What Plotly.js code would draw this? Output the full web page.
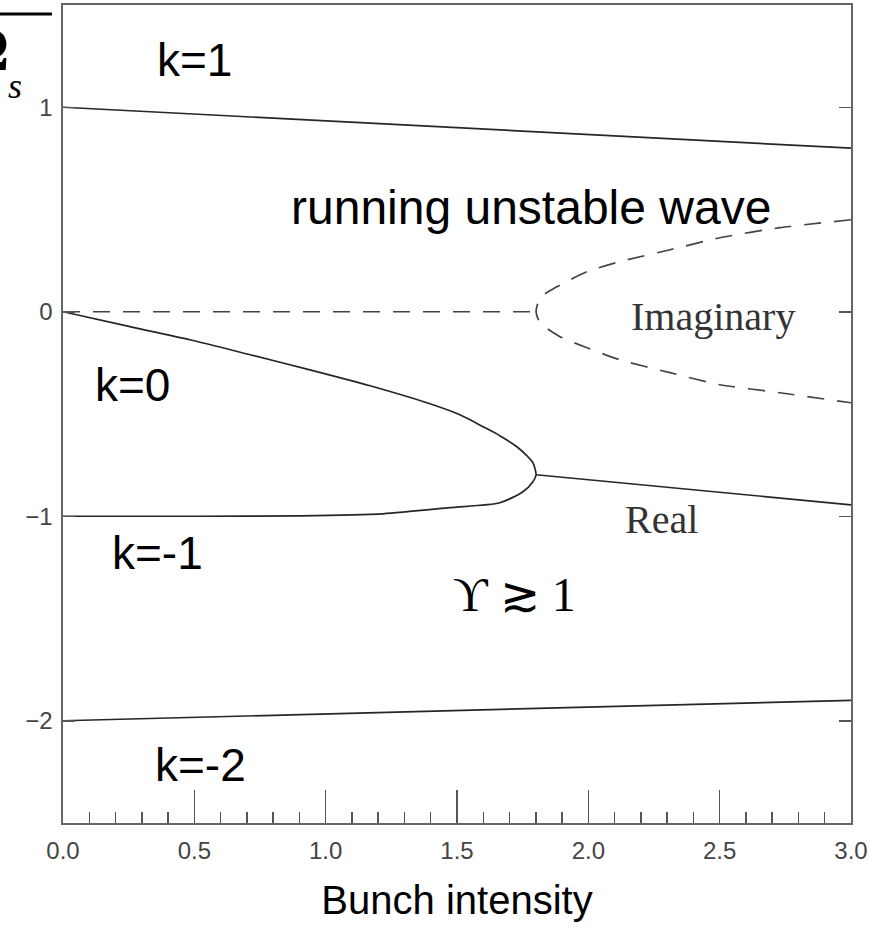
<!DOCTYPE html>
<html>
<head>
<meta charset="utf-8">
<script src="https://cdn.plot.ly/plotly-3.0.1.min.js"></script>
<style>html,body{margin:0;padding:0;background:#fff;}#chart{width:869px;height:935px;}</style>
</head>
<body>
<div id="chart"></div>
<script>
// k = 1 mode (solid)
const k1X = [0.0, 3.0];
const k1Y = [1.0, 0.8];
// k = -2 mode (solid)
const km2X = [0.0, 3.0];
const km2Y = [-2.0, -1.9];
// k = 0 branch (solid), from origin to the merging point
const k0X = [0.0, 0.255, 0.483, 0.712, 0.940, 1.169, 1.397, 1.511, 1.599, 1.663, 1.728, 1.770, 1.789, 1.801];
const k0Y = [0.0, -0.073, -0.137, -0.210, -0.284, -0.362, -0.450, -0.504, -0.562, -0.606, -0.660, -0.709, -0.738, -0.797];
// k = -1 branch (solid), from -1 to the merging point
const km1X = [0.0, 0.522, 0.902, 1.218, 1.473, 1.663, 1.751, 1.789, 1.801];
const km1Y = [-1.0, -1.0, -0.998, -0.988, -0.958, -0.934, -0.880, -0.831, -0.797];
// merged real part (solid)
const realX = [1.801, 3.0];
const realY = [-0.797, -0.944];
// imaginary part (dashed)
const imagFlatX = [0.0, 1.801];
const imagFlatY = [0.0, 0.0];
const imagX = [3.0, 2.729, 2.501, 2.311, 2.120, 1.995, 1.880, 1.816, 1.801, 1.816, 1.892, 1.995, 2.120, 2.311, 2.501, 2.729, 3.0];
const imagY = [0.450, 0.411, 0.362, 0.303, 0.245, 0.196, 0.122, 0.068, 0.0, -0.054, -0.122, -0.176, -0.235, -0.298, -0.357, -0.396, -0.445];

const xTicks = [0.0, 0.5, 1.0, 1.5, 2.0, 2.5, 3.0];
const xTickText = ['0.0', '0.5', '1.0', '1.5', '2.0', '2.5', '3.0'];
const yTicks = [-2, -1, 0, 1];
const yTickText = ['\u22122', '\u22121', '0', '1'];

const solid = {color: '#262626', width: 1.7};
const dashed = {color: '#444', width: 1.7, dash: '17px,13px'};

// the k=0 and k=-1 branches joined through their merging point, so the turn is smooth
const loopX = k0X.concat(km1X.slice(0, -1).reverse());
const loopY = k0Y.concat(km1Y.slice(0, -1).reverse());

const traces = [
  {x: k1X, y: k1Y, mode: 'lines', line: solid, hoverinfo: 'skip'},
  {x: km2X, y: km2Y, mode: 'lines', line: solid, hoverinfo: 'skip'},
  {x: loopX, y: loopY, mode: 'lines', line: Object.assign({shape: 'spline', smoothing: 0.7}, solid), hoverinfo: 'skip'},
  {x: realX, y: realY, mode: 'lines', line: solid, hoverinfo: 'skip'},
  {x: imagFlatX, y: imagFlatY, mode: 'lines', line: dashed, hoverinfo: 'skip'},
  {x: imagX, y: imagY, mode: 'lines', line: Object.assign({shape: 'spline', smoothing: 0.6}, dashed), hoverinfo: 'skip'}
];

const big = {family: 'Liberation Sans, Arial, sans-serif', size: 46, color: '#000'};
const serif = {family: 'Liberation Serif, Times New Roman, serif', size: 40, color: '#333'};

const layout = {
  width: 869, height: 935,
  margin: {l: 63, r: 18, t: 5, b: 112},
  paper_bgcolor: '#fff', plot_bgcolor: '#fff',
  showlegend: false,
  xaxis: {
    range: [0, 3], tickvals: xTicks, ticktext: xTickText,
    ticks: 'inside', ticklen: 33, tickwidth: 1.5, tickcolor: '#555',
    minor: {dtick: 0.1, ticks: 'inside', ticklen: 11, tickwidth: 1.5, tickcolor: '#555'},
    showline: true, linecolor: '#666', linewidth: 1.6, mirror: true,
    showgrid: false, zeroline: false,
    tickfont: {family: 'Liberation Sans, Arial, sans-serif', size: 24, color: '#444'},
    ticklabelstandoff: 6,
    title: {text: 'Bunch intensity', font: {family: 'Liberation Sans, Arial, sans-serif', size: 40, color: '#000'}, standoff: 22}
  },
  yaxis: {
    range: [-2.5, 1.5], tickvals: yTicks, ticktext: yTickText,
    ticks: 'inside', ticklen: 12, tickwidth: 1.5, tickcolor: '#555',
    showline: true, linecolor: '#666', linewidth: 1.6, mirror: 'ticks',
    showgrid: false, zeroline: false,
    tickfont: {family: 'Liberation Sans, Arial, sans-serif', size: 24, color: '#444'},
    ticklabelstandoff: 4
  },
  shapes: [
    {type: 'line', xref: 'paper', yref: 'paper', x0: -0.085, x1: -0.014, y0: 0.989, y1: 0.989, line: {color: '#000', width: 3}}
  ],
  annotations: [
    {x: 0.502, y: 1.232, text: 'k=1', showarrow: false, font: big},
    {x: 1.781, y: 0.509, text: 'running unstable wave', showarrow: false, font: {family: 'Liberation Sans, Arial, sans-serif', size: 48, color: '#000'}},
    {x: 0.263, y: -0.357, text: 'k=0', showarrow: false, font: big},
    {x: 0.358, y: -1.178, text: 'k=-1', showarrow: false, font: big},
    {x: 0.522, y: -2.215, text: 'k=-2', showarrow: false, font: big},
    {x: 2.474, y: -0.024, text: 'Imaginary', showarrow: false, font: serif},
    {x: 2.28, y: -1.017, text: 'Real', showarrow: false, font: serif},
    {x: 1.72, y: -1.384, text: '\u03D2 \u2273 1', showarrow: false, font: {family: 'Liberation Serif, Times New Roman, serif', size: 48, color: '#000'}},
    {xref: 'paper', yref: 'paper', x: -0.066, y: 0.947, xanchor: 'right', yanchor: 'middle', text: '<b>\u03A9</b>', showarrow: false, font: {family: 'Liberation Serif, Times New Roman, serif', size: 64, color: '#000'}},
    {xref: 'paper', yref: 'paper', x: -0.072, y: 0.901, xanchor: 'left', yanchor: 'middle', text: '<i>s</i>', showarrow: false, font: {family: 'Liberation Serif, Times New Roman, serif', size: 36, color: '#000'}},
    {xref: 'paper', yref: 'paper', x: -0.018, y: 1.0, xanchor: 'right', yanchor: 'bottom', text: '<i>\u03C9</i><sub><i>k</i></sub>', showarrow: false, font: {family: 'Liberation Serif, Times New Roman, serif', size: 48, color: '#000'}}
  ]
};

Plotly.newPlot('chart', traces, layout, {staticPlot: true, displayModeBar: false});
</script>
</body>
</html>
